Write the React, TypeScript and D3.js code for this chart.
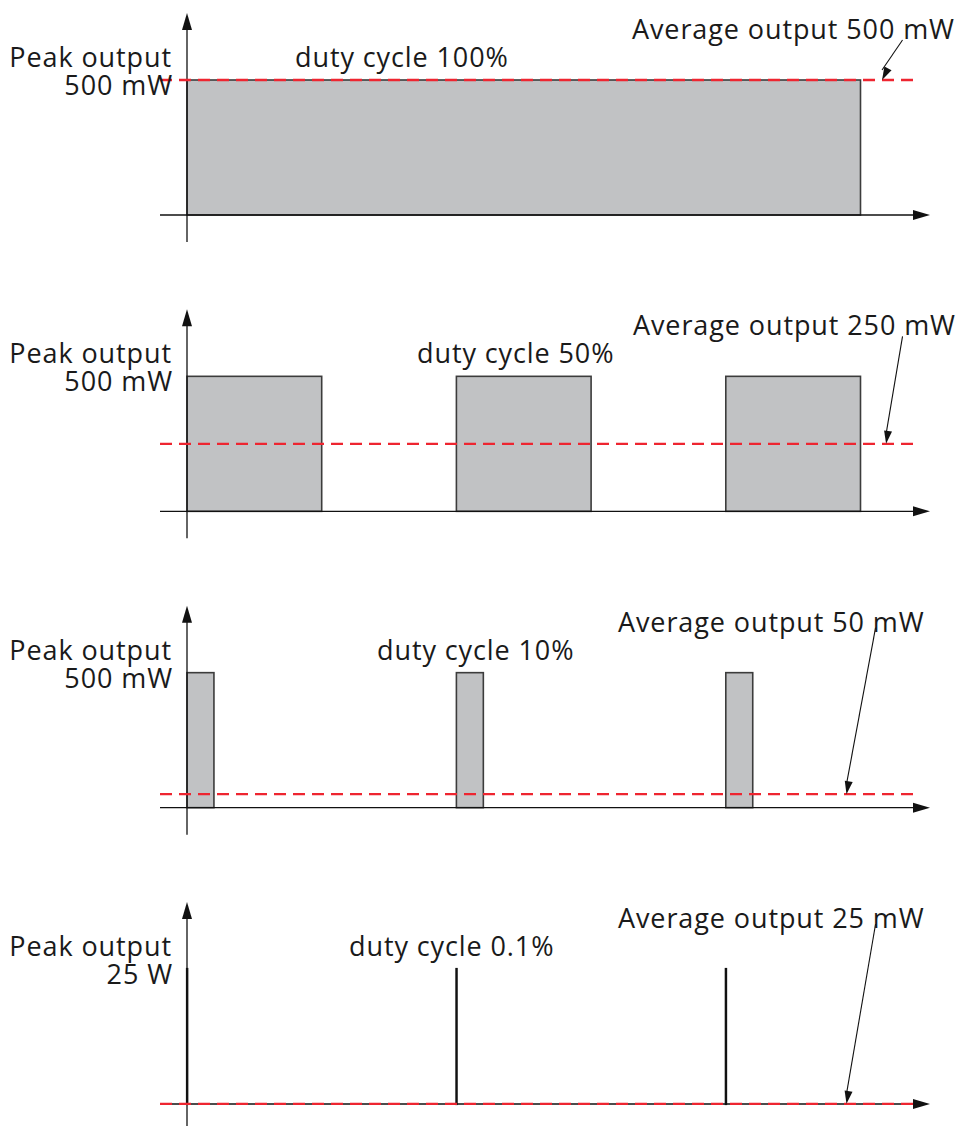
import * as d3 from 'd3';

const WIDTH = 956;
const HEIGHT = 1126;

// one entry per panel, top to bottom
const dutyLabels = ['duty cycle 100%', 'duty cycle 50%', 'duty cycle 10%', 'duty cycle 0.1%'];
const peakLabels = ['500 mW', '500 mW', '500 mW', '25 W'];
const averageLabels = [
  'Average output 500 mW',
  'Average output 250 mW',
  'Average output 50 mW',
  'Average output 25 mW',
];
// average level relative to the peak
const averageLevels = [1, 0.5, 0.1, 0.001];

// pulses as [start, end] in periods
const pulses100 = [[0, 2.5]];
const pulses50 = [[0, 0.5], [1, 1.5], [2, 2.5]];
const pulses10 = [[0, 0.1], [1, 1.1], [2, 2.1]];
const pulses01 = [[0, 0.001], [1, 1.001], [2, 2.001]];
const pulseSets = [pulses100, pulses50, pulses10, pulses01];

// where the callout arrows sit, in periods
const arrowTailT = [2.656, 2.656, 2.556, 2.556];
const arrowTipT = [2.58, 2.595, 2.448, 2.448];

// text placement (left edge of the labels)
const dutyLabelX = [295, 417, 377, 349];
const averageLabelX = [632, 633, 618, 618];

const ORIGIN_X = 187;
const PEAK_HEIGHT = 135;
const FONT = '"Open Sans", "DejaVu Sans", sans-serif';
const RED = '#ee2530';

const xScale = d3.scaleLinear().domain([0, 2.5]).range([ORIGIN_X, 860.5]);
const panelScale = d3.scaleLinear().domain([0, 3]).range([215, 1104]);

const Panel = ({ i }: { i: number }) => {
  const base = panelScale(i);
  const yScale = d3.scaleLinear().domain([0, 1]).range([base, base - PEAK_HEIGHT]);
  const avgY = yScale(averageLevels[i]);
  const thin = i === 3;

  const tailX = xScale(arrowTailT[i]);
  const tailY = base - (i < 2 ? 175 : 180);
  const tipX = xScale(arrowTipT[i]);
  const tipY = avgY;

  return (
    <g>
      {/* pulses */}
      {pulseSets[i].map(([s, e], k) => (
        <rect
          key={k}
          x={xScale(s)}
          y={yScale(1)}
          width={xScale(e) - xScale(s)}
          height={yScale(0) - yScale(1)}
          fill="#c1c2c4"
          stroke={thin ? '#111' : '#3c3c3c'}
          strokeWidth={thin ? 2.2 : 1.6}
        />
      ))}

      {/* axes */}
      <line x1={160} x2={918} y1={base} y2={base} stroke="#111" strokeWidth={1.3} />
      <path d={`M${930},${base} L${913},${base - 5} L${913},${base + 5} Z`} fill="#111" />
      <line x1={ORIGIN_X} x2={ORIGIN_X} y1={base + 27} y2={base - 190} stroke="#111" strokeWidth={1.3} />
      <path
        d={`M${ORIGIN_X},${base - 202} L${ORIGIN_X - 5},${base - 185} L${ORIGIN_X + 5},${base - 185} Z`}
        fill="#111"
      />

      {/* average level */}
      <line
        x1={160}
        x2={915}
        y1={avgY}
        y2={avgY}
        stroke={RED}
        strokeWidth={2.4}
        strokeDasharray="12 7"
      />

      {/* callout arrow */}
      <line x1={tailX} y1={tailY} x2={tipX} y2={tipY - 10} stroke="#111" strokeWidth={1.1} />
      {(() => {
        const ang = Math.atan2(tipY - tailY, tipX - tailX);
        const len = 13;
        const w = 4;
        const bx = tipX - len * Math.cos(ang);
        const by = tipY - len * Math.sin(ang);
        const px = -Math.sin(ang) * w;
        const py = Math.cos(ang) * w;
        return (
          <path
            d={`M${tipX},${tipY} L${bx + px},${by + py} L${bx - px},${by - py} Z`}
            fill="#111"
          />
        );
      })()}

      {/* labels */}
      <g fontFamily={FONT} fontSize={27} letterSpacing={0.9} fill="#1a1a1a">
        <text x={172} y={base - 148} textAnchor="end">
          Peak output
        </text>
        <text x={173} y={base - 120} textAnchor="end">
          {peakLabels[i]}
        </text>
        <text x={dutyLabelX[i]} y={base - 148}>
          {dutyLabels[i]}
        </text>
        <text x={averageLabelX[i]} y={base - 176}>
          {averageLabels[i]}
        </text>
      </g>
    </g>
  );
};

export default function App() {
  return (
    <svg
      width={WIDTH}
      height={HEIGHT}
      style={{ position: 'absolute', left: 0, top: 0, background: '#fff' }}
    >
      {dutyLabels.map((_, i) => (
        <Panel key={i} i={i} />
      ))}
    </svg>
  );
}
